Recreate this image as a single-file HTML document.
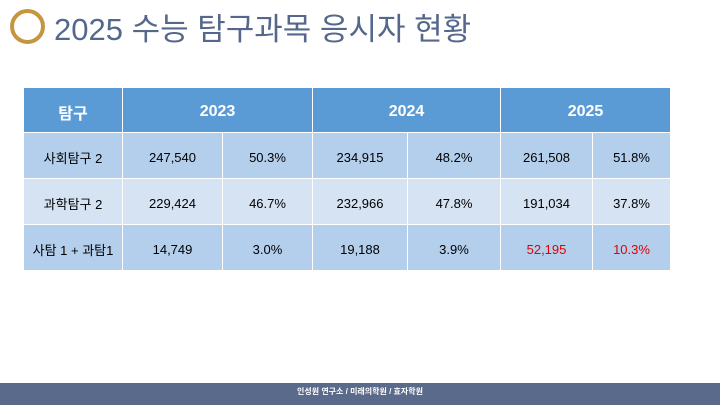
<!DOCTYPE html>
<html><head><meta charset="utf-8"><style>
body{margin:0;width:720px;height:405px;background:#fff;position:relative;overflow:hidden;font-family:"Liberation Sans","Noto Sans CJK KR",sans-serif}
#circ{position:absolute;left:10px;top:9px;width:27px;height:27px;border:4px solid #c6963f;border-radius:50%}
#title{position:absolute;left:54px;top:4px;font-size:31px;color:#55688c;white-space:nowrap;letter-spacing:0}
table{position:absolute;left:23px;top:87px;border-collapse:collapse;table-layout:fixed}
td,th{border:1.5px solid #fff;text-align:center;font-size:13px;color:#000;padding:0}
th{background:#5b9bd5;color:#fff;font-weight:bold;font-size:16px;height:41px;padding-top:3px}
tr.a td{background:#b4cfec}
tr.b td{background:#d5e3f3}
td{height:42px;padding-top:3px}
.red{color:#e00000}
#foot{position:absolute;left:0;top:383px;width:720px;height:22px;background:#5a6a8a;color:#fff;font-size:8px;font-weight:bold;text-align:center;line-height:18px}
</style></head><body>
<div id="circ"></div>
<div id="title">2025 수능 탐구과목 응시자 현황</div>
<table>
<colgroup><col style="width:99px"><col style="width:100px"><col style="width:90px"><col style="width:95px"><col style="width:93px"><col style="width:92px"><col style="width:78px"></colgroup>
<tr><th>탐구</th><th colspan="2">2023</th><th colspan="2">2024</th><th colspan="2">2025</th></tr>
<tr class="a"><td>사회탐구 2</td><td>247,540</td><td>50.3%</td><td>234,915</td><td>48.2%</td><td>261,508</td><td>51.8%</td></tr>
<tr class="b"><td>과학탐구 2</td><td>229,424</td><td>46.7%</td><td>232,966</td><td>47.8%</td><td>191,034</td><td>37.8%</td></tr>
<tr class="a"><td>사탐 1 + 과탐1</td><td>14,749</td><td>3.0%</td><td>19,188</td><td>3.9%</td><td class="red">52,195</td><td class="red">10.3%</td></tr>
</table>
<div id="foot">인성원 연구소 / 미래의학원 / 효자학원</div>
</body></html>
